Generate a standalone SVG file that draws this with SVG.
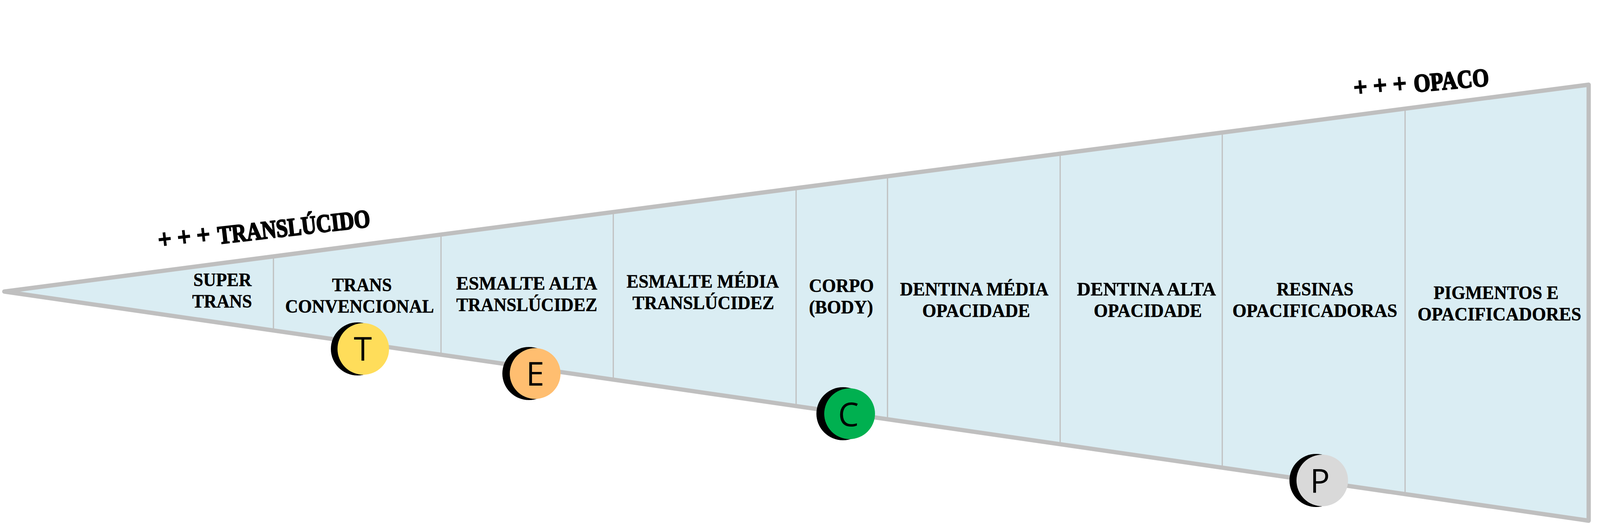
<svg xmlns="http://www.w3.org/2000/svg" width="4098" height="1340" viewBox="0 0 4098 1340">
<style>
.wedge{fill:#DAEDF3;stroke:#BFBFBF;stroke-width:11;stroke-linejoin:round}
.div{stroke:#BFBFBF;stroke-width:3;fill:none}
.lbl{font-family:"Liberation Serif","Times New Roman",serif;font-weight:700;font-size:48px;fill:#000;stroke:#000;stroke-width:.6}
.head{font-family:"Liberation Serif","Times New Roman",serif;font-weight:700;font-size:65px;fill:#000;stroke:#000;stroke-width:3}
.plus{font-family:"Liberation Serif","Times New Roman",serif;font-weight:700;font-size:68px;fill:#000;stroke:#000;stroke-width:3}
.ltr{font-family:"Open Sans","Noto Sans",sans-serif;font-size:84px;fill:#000;text-anchor:middle}
.sh{fill:#000}
</style>
<rect width="4098" height="1340" fill="#fff"/>
<g id="wedge"><polygon class="wedge" points="11,747 4067,217 4067,1334"/></g>
<g id="connectors">
<line class="div" x1="700" y1="657" x2="700" y2="847"/>
<line class="div" x1="1129" y1="601" x2="1129" y2="909"/>
<line class="div" x1="1570" y1="543" x2="1570" y2="973"/>
<line class="div" x1="2038" y1="482" x2="2038" y2="1040"/>
<line class="div" x1="2272" y1="451" x2="2272" y2="1074"/>
<line class="div" x1="2714" y1="394" x2="2714" y2="1138"/>
<line class="div" x1="3129" y1="339" x2="3129" y2="1198"/>
<line class="div" x1="3597" y1="278" x2="3597" y2="1266"/>
</g>
<g id="head-translucido"><text class="plus" transform="translate(407,637) rotate(-6.5)" textLength="134" lengthAdjust="spacingAndGlyphs">+ + +</text><text class="head" transform="translate(560,625) rotate(-6.5)" textLength="392" lengthAdjust="spacingAndGlyphs">TRANSLÚCIDO</text></g>
<g id="head-opaco"><text class="plus" transform="translate(3467,247) rotate(-5)" textLength="136" lengthAdjust="spacingAndGlyphs">+ + +</text><text class="head" transform="translate(3621,236) rotate(-5)" textLength="193" lengthAdjust="spacingAndGlyphs">OPACO</text></g>
<g id="n-super"><text class="lbl" x="495" y="733" textLength="149" lengthAdjust="spacingAndGlyphs">SUPER</text><text class="lbl" x="492" y="788" textLength="153" lengthAdjust="spacingAndGlyphs">TRANS</text></g>
<g id="n-trans"><text class="lbl" x="850" y="746" textLength="153" lengthAdjust="spacingAndGlyphs">TRANS</text><text class="lbl" x="730" y="801" textLength="381" lengthAdjust="spacingAndGlyphs">CONVENCIONAL</text></g>
<g id="n-esmalte-alta"><text class="lbl" x="1168" y="742" textLength="361" lengthAdjust="spacingAndGlyphs">ESMALTE ALTA</text><text class="lbl" x="1168" y="797" textLength="361" lengthAdjust="spacingAndGlyphs">TRANSLÚCIDEZ</text></g>
<g id="n-esmalte-media"><text class="lbl" x="1604" y="737" textLength="390" lengthAdjust="spacingAndGlyphs">ESMALTE MÉDIA</text><text class="lbl" x="1619" y="792" textLength="363" lengthAdjust="spacingAndGlyphs">TRANSLÚCIDEZ</text></g>
<g id="n-corpo"><text class="lbl" x="2071" y="748" textLength="166" lengthAdjust="spacingAndGlyphs">CORPO</text><text class="lbl" x="2071" y="803" textLength="164" lengthAdjust="spacingAndGlyphs">(BODY)</text></g>
<g id="n-dentina-media"><text class="lbl" x="2304" y="757" textLength="380" lengthAdjust="spacingAndGlyphs">DENTINA MÉDIA</text><text class="lbl" x="2361" y="812" textLength="276" lengthAdjust="spacingAndGlyphs">OPACIDADE</text></g>
<g id="n-dentina-alta"><text class="lbl" x="2757" y="757" textLength="356" lengthAdjust="spacingAndGlyphs">DENTINA ALTA</text><text class="lbl" x="2800" y="812" textLength="277" lengthAdjust="spacingAndGlyphs">OPACIDADE</text></g>
<g id="n-resinas"><text class="lbl" x="3268" y="757" textLength="197" lengthAdjust="spacingAndGlyphs">RESINAS</text><text class="lbl" x="3155" y="812" textLength="422" lengthAdjust="spacingAndGlyphs">OPACIFICADORAS</text></g>
<g id="n-pigmentos"><text class="lbl" x="3670" y="766" textLength="320" lengthAdjust="spacingAndGlyphs">PIGMENTOS E</text><text class="lbl" x="3629" y="821" textLength="419" lengthAdjust="spacingAndGlyphs">OPACIFICADORES</text></g>
<g id="badge-t"><circle class="sh" cx="915" cy="894" r="68"/><circle cx="930" cy="894" r="66" fill="#FFDD5A"/><text class="ltr" x="929" y="924">T</text></g>
<g id="badge-e"><circle class="sh" cx="1354" cy="957" r="68"/><circle cx="1370" cy="957" r="65" fill="#FFBE70"/><text class="ltr" x="1370" y="988">E</text></g>
<g id="badge-c"><circle class="sh" cx="2158" cy="1060" r="68"/><circle cx="2175" cy="1060" r="65" fill="#00B050"/><text class="ltr" x="2172" y="1092">C</text></g>
<g id="badge-p"><circle class="sh" cx="3369" cy="1231" r="68"/><circle cx="3385" cy="1231" r="66" fill="#D9D9D9"/><text class="ltr" x="3379" y="1263">P</text></g>
</svg>
